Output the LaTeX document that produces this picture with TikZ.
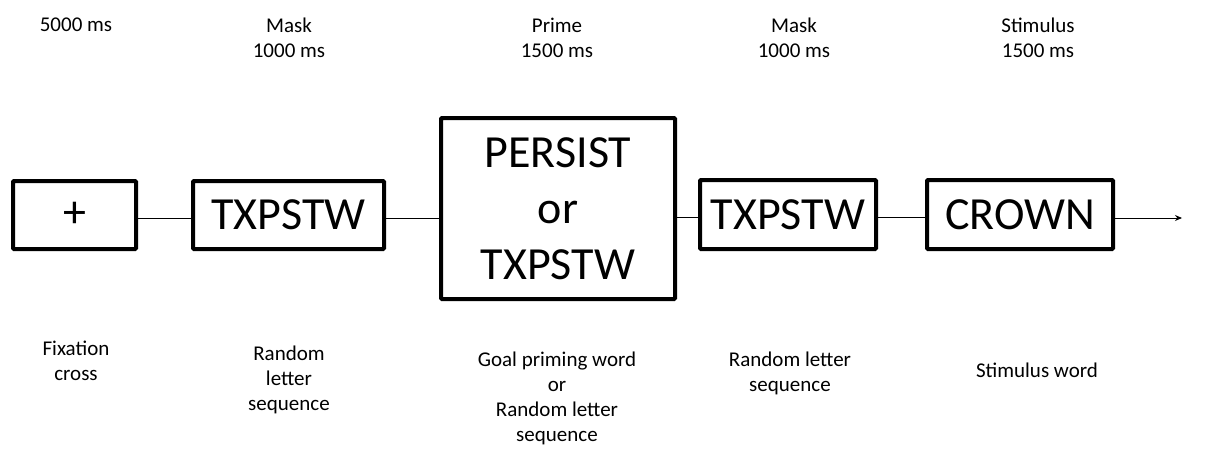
\documentclass[tikz,border=0pt]{standalone}
\usepackage{fontspec}
\setmainfont{Carlito}
\usetikzlibrary{arrows.meta}

\begin{document}
\begin{tikzpicture}[x=1pt,y=-1pt,
        box/.style={draw=black, line width=4pt, rounded corners=1pt, align=center,
                    inner sep=0pt, font=\fontsize{46}{56}\selectfont},
        lbl/.style={align=center, inner sep=0pt, font=\fontsize{21}{25}\selectfont},
        link/.style={line width=1pt}]
        \useasboundingbox (0,0) rectangle (1208,448);
        % stimuli
        \node [box, minimum width=123pt, minimum height=68pt] (fix) at (74.5,215) {+};
        \node [box, minimum width=191pt, minimum height=68pt] (mask1) at (288.5,215) {TXPSTW};
        \node [box, minimum width=234pt, minimum height=181pt] (prime) at (558,208.5) {PERSIST\\or\\TXPSTW};
        \node [box, minimum width=176pt, minimum height=69pt] (mask2) at (788,214.5) {TXPSTW};
        \node [box, minimum width=186pt, minimum height=69pt] (stim) at (1020,214.5) {CROWN};
        \coordinate (end) at (1182,218);
        % durations
        \node [lbl] (t1) at (76,25) {5000 ms};
        \node [lbl] (t2) at (289,37.5) {Mask\\1000 ms};
        \node [lbl] (t3) at (557,37.5) {Prime\\1500 ms};
        \node [lbl] (t4) at (794,37.5) {Mask\\1000 ms};
        \node [lbl] (t5) at (1038,37.5) {Stimulus\\1500 ms};
        % descriptions
        \node [lbl] (d1) at (76,360.5) {Fixation\\cross};
        \node [lbl] (d2) at (289,379.5) {Random\\letter\\sequence};
        \node [lbl] (d3) at (557,398) {Goal priming word\\or\\Random letter\\sequence};
        \node [lbl] (d4) at (790,373.5) {Random letter\\sequence};
        \node [lbl] (d5) at (1037,370) {Stimulus word};
        % timeline
        \draw [link] ([yshift=-3pt]fix.east) -- ([yshift=-3pt]fix.east -| mask1.west);
        \draw [link] ([yshift=-3pt]mask1.east) -- ([yshift=-3pt]mask1.east -| prime.west);
        \draw [link] ([yshift=-3pt]mask2.west -| prime.east) -- ([yshift=-3pt]mask2.west);
        \draw [link] ([yshift=-3pt]mask2.east) -- ([yshift=-3pt]stim.west);
        \draw [link, -{Stealth[length=7pt,width=6pt]}] (stim.east |- end) -- (end);
\end{tikzpicture}
\end{document}
